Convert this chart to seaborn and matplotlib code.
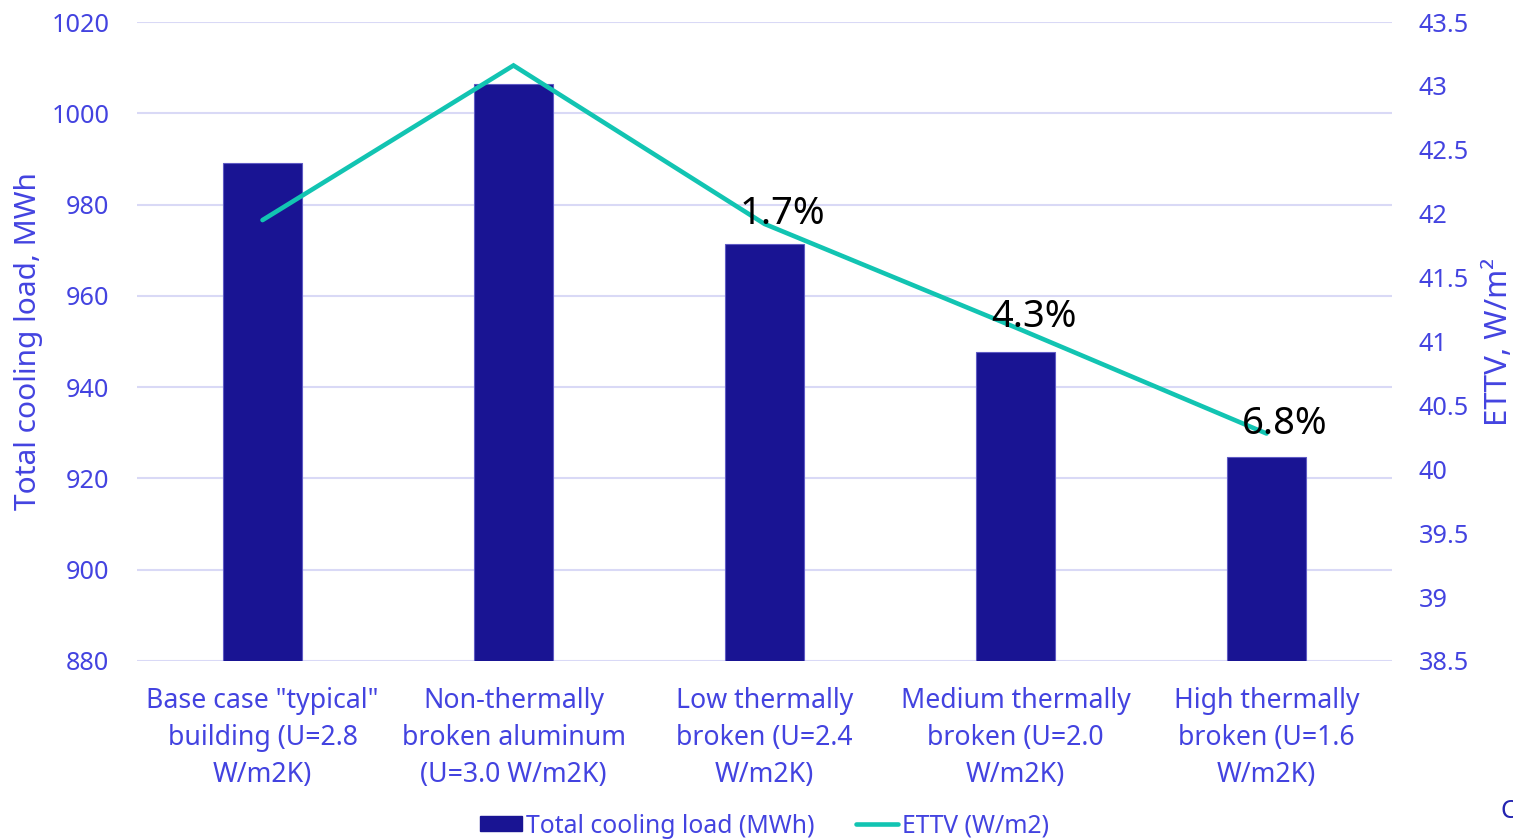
import numpy as np
import pandas as pd
import matplotlib
matplotlib.use("Agg")
import matplotlib.pyplot as plt
import seaborn as sns
from matplotlib.patches import Patch
from matplotlib.lines import Line2D

# Window frame options
categories = [
    'Base case "typical"\nbuilding (U=2.8\nW/m2K)',
    'Non-thermally\nbroken aluminum\n(U=3.0 W/m2K)',
    'Low thermally\nbroken (U=2.4\nW/m2K)',
    'Medium thermally\nbroken (U=2.0\nW/m2K)',
    'High thermally\nbroken (U=1.6\nW/m2K)',
]
cooling_load = [989.0, 1006.5, 971.4, 947.7, 924.6]   # MWh
ettv = [41.95, 43.16, 41.92, 41.11, 40.28]           # W/m2
savings_labels = ["", "", "1.7%", "4.3%", "6.8%"]

left_ticks = [880, 900, 920, 940, 960, 980, 1000, 1020]
right_ticks = [38.5, 39, 39.5, 40, 40.5, 41, 41.5, 42, 42.5, 43, 43.5]

BAR = "#191493"
LINE = "#12C4B2"
TEXT = "#4343E0"
GRID = "#D9D9F6"

sns.set_theme(style="white")
plt.rcParams["font.family"] = ["Noto Sans", "DejaVu Sans"]

fig = plt.figure(figsize=(15.13, 8.39), dpi=100)
ax = fig.add_axes([137 / 1513, 1 - 661 / 839, (1392 - 137) / 1513, (661 - 22) / 839])

df = pd.DataFrame({"option": categories, "load": cooling_load})
sns.barplot(data=df, x="option", y="load", ax=ax, color=BAR, saturation=1,
            width=0.312, edgecolor="#5F5BC4", linewidth=0.8, zorder=3)

ax.set_ylim(880, 1020)
ax.set_yticks(left_ticks)
ax.set_yticklabels([str(t) for t in left_ticks])
ax.set_xlim(-0.5, len(categories) - 0.5)
ax.yaxis.grid(True, color=GRID, linewidth=1.5, zorder=0)
ax.set_axisbelow(True)
for s in ax.spines.values():
    s.set_visible(False)
ax.tick_params(axis="both", length=0, labelcolor=TEXT)
ax.tick_params(axis="y", pad=20, labelsize=18.2)
ax.tick_params(axis="x", pad=19, labelsize=19.2)
ax.set_xlabel("")
ax.set_ylabel("Total cooling load, MWh", fontsize=21.5, color=TEXT, labelpad=6)
for lbl in ax.get_xticklabels():
    lbl.set_linespacing(1.42)
    lbl.set_ha("center")

ax2 = ax.twinx()
pos = np.arange(len(categories))
sns.lineplot(x=pos, y=ettv, ax=ax2, color=LINE, linewidth=3.3,
             solid_capstyle="round", solid_joinstyle="miter", zorder=4)
ax2.set_ylim(38.5, 43.5)
ax2.set_yticks(right_ticks)
ax2.set_yticklabels([f"{t:g}" for t in right_ticks])
for s in ax2.spines.values():
    s.set_visible(False)
ax2.tick_params(axis="y", length=0, labelsize=18.2, labelcolor=TEXT, pad=19)
ax2.set_ylabel("ETTV, W/m²", fontsize=22.5, color=TEXT, labelpad=11)
ax2.set_xlim(-0.5, len(categories) - 0.5)

for x, y, s in zip(pos, ettv, savings_labels):
    if s:
        ax2.annotate(s, (x, y), xytext=(13, 0), textcoords="offset points",
                     ha="center", va="baseline", fontsize=27.5, color="black",
                     zorder=5)

handles = [
    Patch(facecolor=BAR, edgecolor=BAR),
    Line2D([0], [0], color=LINE, linewidth=3.3),
]
fig.legend(handles, ["Total cooling load (MWh)", "ETTV (W/m2)"],
           loc="lower center", bbox_to_anchor=(764.5 / 1513, -0.026), ncol=2,
           frameon=False, fontsize=17.8, labelcolor=TEXT, handlelength=1.7,
           handleheight=0.55, handletextpad=0.15, columnspacing=1.7)

fig.text(1500 / 1513, 1 - 812 / 839, "C", fontsize=18, color="#2323B0",
         ha="left", va="center")

fig.savefig("out.png", dpi=100)
